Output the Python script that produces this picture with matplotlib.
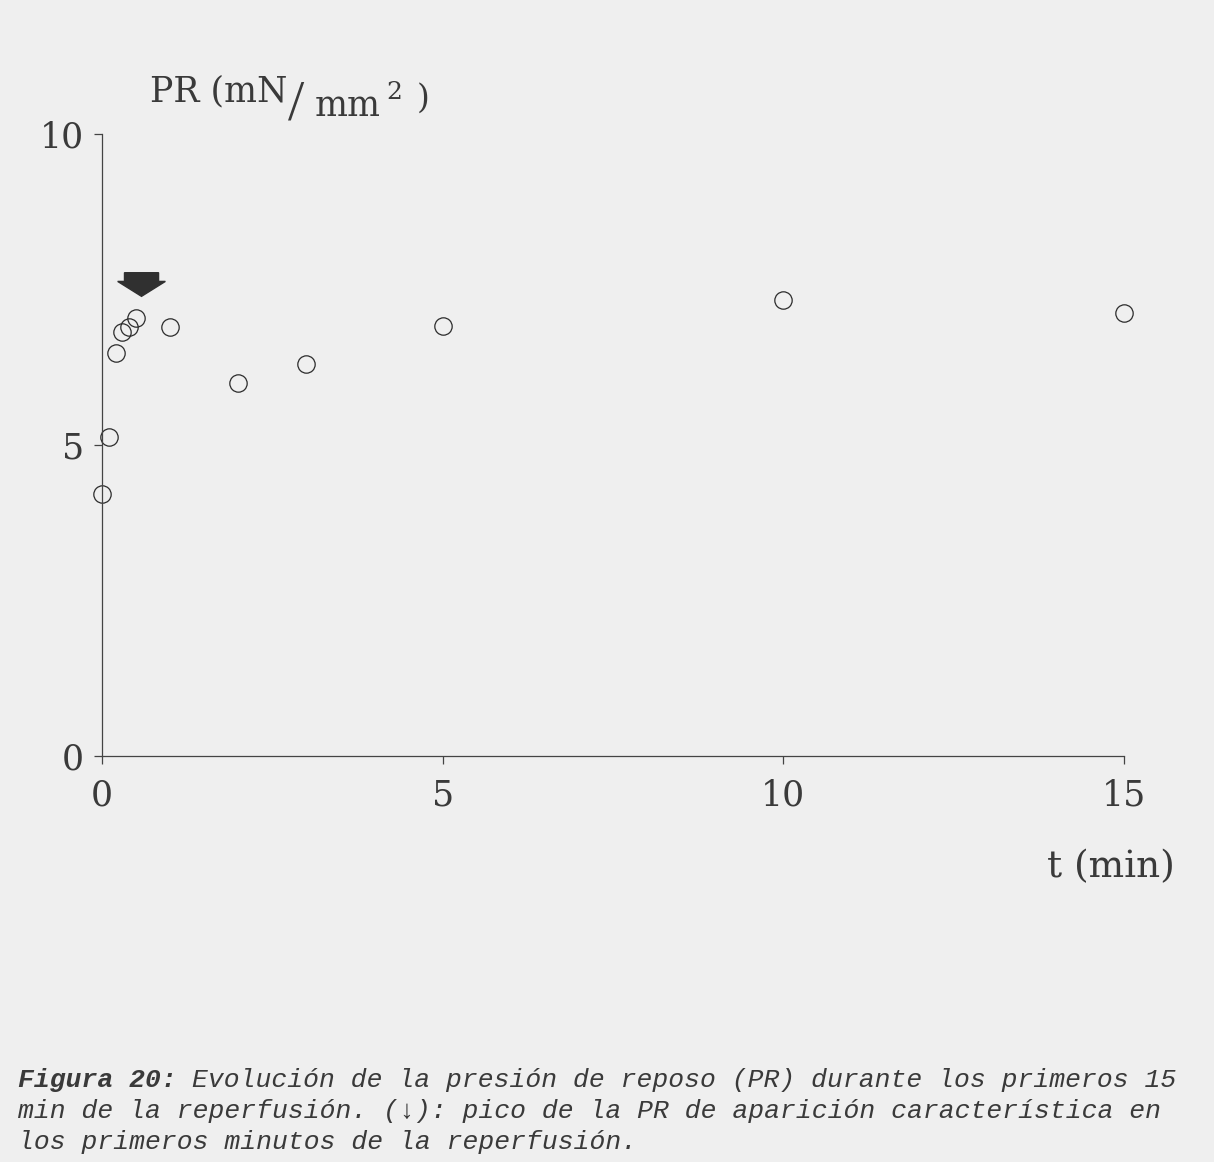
import numpy as np
import matplotlib.pyplot as plt

# resting pressure during the first 15 min of reperfusion
t_min = [0, 0.1, 0.2, 0.3, 0.4, 0.5, 1, 2, 3, 5, 10, 15]
pr = [4.22, 5.13, 6.48, 6.81, 6.89, 7.04, 6.89, 6.0, 6.31, 6.91, 7.33, 7.12]
xticks = [0, 5, 10, 15]
yticks = [0, 5, 10]
peak_t = 0.5

W, H = 1214, 1162
bg = '#efefef'
ink = '#2b2b2b'
serif = ['DejaVu Serif']

fig = plt.figure(figsize=(W / 100, H / 100), dpi=100, facecolor=bg)
ax = fig.add_axes([102 / W, 1 - 756 / H, (1124 - 102) / W, (756 - 134) / H])
ax.set_facecolor(bg)

ax.plot(t_min, pr, 'o', mfc='none', mec=ink, ms=12.5, mew=0.9, clip_on=False)

# filled arrow above the early peak
peak_pr = pr[t_min.index(peak_t)]
ax.arrow(peak_t + 0.08, peak_pr + 0.73, 0, -0.38, width=0.5, head_width=0.7,
         head_length=0.24, length_includes_head=True, fc='#303030', ec='#303030',
         clip_on=False)

ax.set_xlim(0, 15)
ax.set_ylim(0, 10)
ax.set_xticks(xticks)
ax.set_yticks(yticks)
for s in ['top', 'right']:
    ax.spines[s].set_visible(False)
for s in ['left', 'bottom']:
    ax.spines[s].set_color('#444444')
    ax.spines[s].set_linewidth(0.9)
ax.tick_params(direction='out', length=6, width=0.9, color='#444444',
               labelsize=25, labelcolor='#3a3a3a')
ax.tick_params(axis='x', pad=10)
ax.tick_params(axis='y', pad=7)
for lab in ax.get_xticklabels() + ax.get_yticklabels():
    lab.set_family(serif)

# y axis unit label, built from pieces
def ftext(x, y, s, size, fam=serif, **kw):
    fig.text(x / W, 1 - y / H, s, fontsize=size, family=fam, color='#3a3a3a',
             va='baseline', **kw)

ftext(150, 101, 'PR (mN', 25)
ftext(288, 119, '/', 42, fam=['Liberation Serif'])
ftext(315, 116, 'mm', 25)
ftext(386, 99, '2', 18)
ftext(417, 108, ')', 24)

ftext(1175, 877, 't (min)', 27, ha='right')

# caption, monospaced so each piece is placed by character count
mono = ['Liberation Mono', 'DejaVu Sans Mono']
cap_fs = 19
char_w = 0.6 * cap_fs * 100 / 72
cap_kw = dict(fontsize=cap_fs, family=mono, style='italic', color='#3a3a3a', va='baseline')
head = 'Figura 20:'
fig.text(18 / W, 1 - 1087 / H, head, weight='bold', **cap_kw)
fig.text((18 + (len(head) + 1) * char_w) / W, 1 - 1087 / H,
         'Evolución de la presión de reposo (PR) durante los primeros 15', **cap_kw)
fig.text(18 / W, 1 - 1118 / H,
         'min de la reperfusión. (↓): pico de la PR de aparición característica en', **cap_kw)
fig.text(18 / W, 1 - 1149 / H, 'los primeros minutos de la reperfusión.', **cap_kw)

fig.savefig('out.png', dpi=100, facecolor=bg)
